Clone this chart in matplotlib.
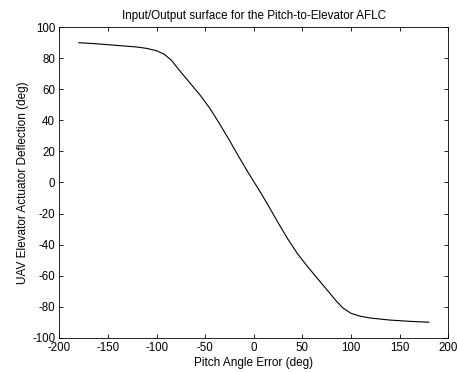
import numpy as np
import matplotlib.pyplot as plt

plt.rcParams['font.family'] = ['Liberation Sans', 'DejaVu Sans']
plt.rcParams['axes.unicode_minus'] = False

# pitch angle error (deg) and elevator deflection (deg)
err = [-180, -160, -140, -120, -110, -100, -92, -85, -75, -65, -55, -45, -35, -25, -15, -5,
       5, 15, 25, 35, 45, 55, 65, 75, 85, 92, 100, 110, 120, 140, 160, 180]
defl = [90, 89.2, 88.2, 87.2, 86.3, 84.8, 82.5, 78.8, 71, 63.5, 56, 47.5, 37.5, 27, 16, 5.5,
        -4.5, -15, -26, -36.5, -46, -54, -61.5, -69, -76.5, -81, -84.3, -86.2, -87.3, -88.6, -89.4, -90]

xticks = [-200, -150, -100, -50, 0, 50, 100, 150, 200]
yticks = [-100, -80, -60, -40, -20, 0, 20, 40, 60, 80, 100]

fig = plt.figure(figsize=(4.57, 3.72), dpi=100)
ax = fig.add_axes([0.130, 0.092, 0.851, 0.835])
ax.plot(err, defl, color='black', lw=0.8)
ax.set_xlim(-200, 200)
ax.set_ylim(-100, 100)
ax.set_xticks(xticks)
ax.set_yticks(yticks)
ax.tick_params(direction='in', top=True, right=True, length=3, width=0.6,
               labelsize=8.3, pad=3)
for s in ax.spines.values():
    s.set_linewidth(0.6)
ax.set_xlabel('Pitch Angle Error (deg)', fontsize=8.5, labelpad=2)
ax.set_ylabel('UAV Elevator Actuator Deflection (deg)', fontsize=8.5, labelpad=2)
ax.set_title('Input/Output surface for the Pitch-to-Elevator AFLC', fontsize=8.4, pad=6)

fig.savefig('out.png', dpi=100)
